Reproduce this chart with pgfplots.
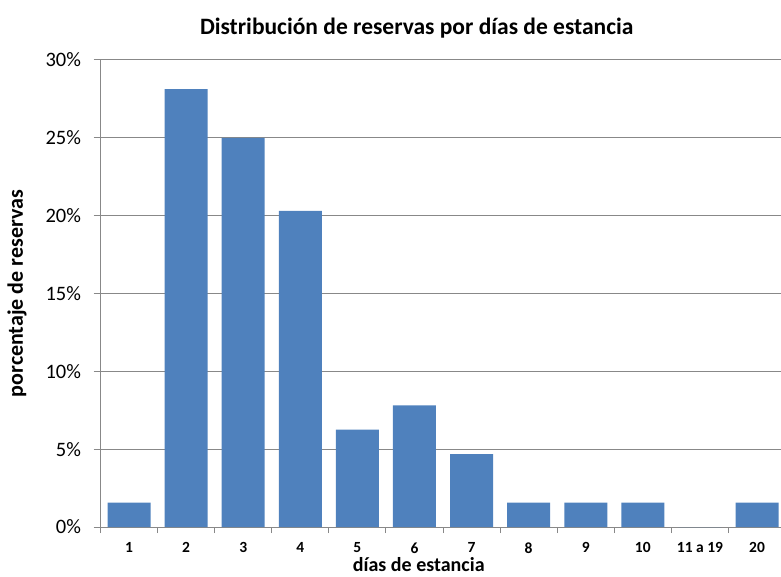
\documentclass[border=0pt]{standalone}
\usepackage{pgfplots}
\pgfplotsset{compat=1.18}
\usepackage{fontspec}
\setmainfont{Carlito}
\definecolor{barblue}{HTML}{4F81BD}
\definecolor{gridgray}{HTML}{888888}
\begin{document}
\begin{tikzpicture}[x=1pt,y=1pt]
\path[use as bounding box] (0,0) rectangle (781,576);
\begin{axis}[
  at={(100.5pt,49pt)}, anchor=south west,
  scale only axis, width=680.5pt, height=467pt,
  xmin=-0.5, xmax=11.42, ymin=0, ymax=30,
  ybar, bar width=43pt,
  ytick={0,5,...,30},
  yticklabel={\pgfmathprintnumber{\tick}\%},
  /pgf/number format/assume math mode=true,
  xtick={0,...,11},
  xticklabels={1,2,3,4,5,6,7,8,9,10,11 a 19,20},
  minor xtick={-0.5,0.5,...,10.5},
  major x tick style={draw=none},
  minor x tick style={gridgray, line width=1pt},
  minor tick length=6pt,
  major tick length=7pt,
  tick align=outside,
  tick pos=left,
  y tick style={gridgray, line width=1pt},
  axis x line*=bottom, axis y line*=left,
  axis line style={gridgray, line width=1pt},
  ymajorgrids, grid style={gridgray, line width=1pt},
  yticklabel style={font=\fontsize{20.5}{22}\selectfont, xshift=-9pt},
  xticklabel style={font=\fontsize{15.5}{17}\selectfont\bfseries, yshift=-5pt},
  xlabel={días de estancia},
  xlabel style={font=\fontsize{20}{22}\selectfont\bfseries, xshift=-22pt, yshift=0pt, inner sep=0.5pt},
  ylabel={porcentaje de reservas},
  ylabel style={font=\fontsize{22}{24}\selectfont\bfseries, yshift=12pt},
  title={Distribución de reservas por días de estancia},
  title style={font=\fontsize{23.5}{26}\selectfont\bfseries, xshift=-24pt, yshift=12pt},
  clip=false,
]
\addplot[fill=barblue, draw=none] coordinates {
(0,1.5625) (1,28.125) (2,25) (3,20.3125) (4,6.25) (5,7.8125)
(6,4.6875) (7,1.5625) (8,1.5625) (9,1.5625) (10,0) (11,1.5625)};
\end{axis}
\end{tikzpicture}
\end{document}
